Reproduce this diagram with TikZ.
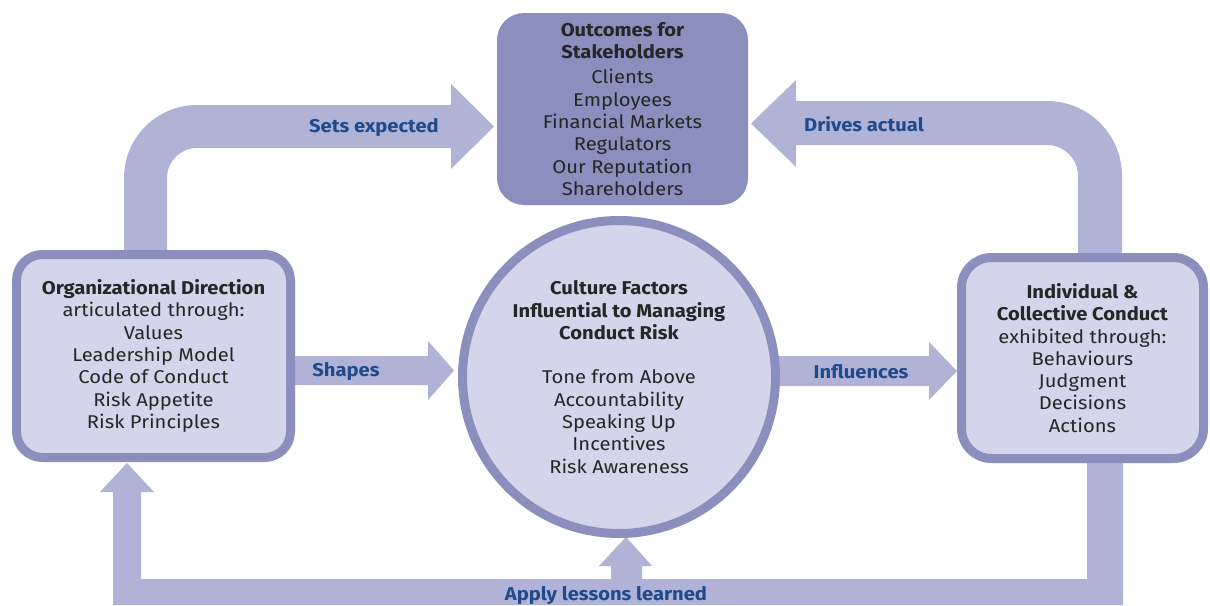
\documentclass[tikz,border=0pt]{standalone}
\usepackage{fontspec}
\setmainfont{Fira Sans}[FakeStretch=1.09]
\usetikzlibrary{calc}
\definecolor{band}{HTML}{B0B3D6}
\definecolor{edge}{HTML}{8A8FBE}
\definecolor{boxfill}{HTML}{D4D5EA}
\definecolor{lbl}{HTML}{1F4A8C}
\definecolor{txt}{HTML}{262626}
\newcommand{\dgbody}{\fontsize{18.5}{22.3}\selectfont}
\begin{document}
\begin{tikzpicture}[x=1pt,y=1pt,
  bandfill/.style={fill=band},
  sidebox/.style={draw=edge, line width=9pt, fill=boxfill, rounded corners=26pt,
     inner sep=0pt, align=center, text=txt, font=\dgbody},
  topbox/.style={fill=edge, rounded corners=27pt, inner sep=0pt, align=center,
     text=txt, font=\dgbody},
  circbox/.style={circle, draw=edge, line width=9pt, fill=boxfill, inner sep=0pt,
     align=center, text=txt, font=\dgbody},
  flowlabel/.style={text=lbl, font=\dgbody\bfseries, inner sep=0pt}]
\useasboundingbox (0,0) rectangle (1210,-605);

% ---------- node positions ----------
\path (153.5,-356) coordinate (lboxc) (1082.5,-358) coordinate (rboxc)
      (622.5,-109) coordinate (topc) (619,-377) coordinate (circc);

% ---------- bands (drawn first) ----------
% Sets expected
\fill[bandfill] (124,-300) -- (124,-178) arc[start angle=180,end angle=90,radius=73]
  -- (451,-105) -- (451,-84) -- (494,-126.5) coordinate (setTip) -- (451,-169) -- (451,-148)
  -- (197,-148) arc[start angle=90,end angle=180,radius=30] -- (167,-300) -- cycle;
% Drives actual
\fill[bandfill] (1078,-300) -- (1078,-176) arc[start angle=0,end angle=90,radius=31]
  -- (796,-145) -- (796,-167) -- (751,-123.5) coordinate (drvTip) -- (796,-80) -- (796,-101)
  -- (1047,-101) arc[start angle=90,end angle=0,radius=75] -- (1122,-300) -- cycle;
% Shapes
\fill[bandfill] (250,-356) -- (428,-356) -- (428,-341) -- (454,-370.5) coordinate (shpTip)
  -- (428,-400) -- (428,-385) -- (250,-385) -- cycle;
% Influences
\fill[bandfill] (760,-356) -- (929,-356) -- (929,-342) -- (957,-371) coordinate (infTip)
  -- (929,-400) -- (929,-386) -- (760,-386) -- cycle;
% Apply lessons learned loop
\fill[bandfill] (1087,-420) -- (1123,-420) -- (1123,-605) -- (113,-605) -- (113,-492)
  -- (100,-492) -- (127,-463) coordinate (lessTipA) -- (154,-492) -- (141,-492) -- (141,-579)
  -- (611,-579) -- (611,-566) -- (599,-566) -- (626,-537) coordinate (lessTipB)
  -- (652,-566) -- (642,-566) -- (642,-579) -- (1087,-579) -- cycle;

% ---------- boxes ----------
\node[sidebox, minimum width=274pt, minimum height=203pt] (lbox) at (lboxc)
  {\textbf{Organizational Direction}\\articulated through:\\Values\\Leadership Model\\Code of Conduct\\Risk Appetite\\Risk Principles};
\node[sidebox, minimum width=242pt, minimum height=201pt, rounded corners=30pt] (rbox) at (rboxc)
  {\textbf{Individual \&}\\\textbf{Collective Conduct}\\exhibited through:\\Behaviours\\Judgment\\Decisions\\Actions};
\node[topbox, minimum width=251pt, minimum height=192pt] (top) at (topc)
  {\textbf{Outcomes for}\\\textbf{Stakeholders}\\[3pt]Clients\\Employees\\Financial Markets\\Regulators\\Our Reputation\\Shareholders};
\node[circbox, minimum size=313pt] (circ) at (circc)
  {\textbf{Culture Factors}\\\textbf{Influential to Managing}\\\textbf{Conduct Risk}\\[22.3pt]Tone from Above\\Accountability\\Speaking Up\\Incentives\\Risk Awareness};

% ---------- labels ----------
\node[flowlabel] (lset) at (374,-128) {Sets expected};
\node[flowlabel] (ldrv) at (864,-124) {Drives actual};
\node[flowlabel] (lshp) at (346,-372) {Shapes};
\node[flowlabel] (linf) at (861,-372) {Influences};
\node[flowlabel] (lles) at (606,-596) {Apply lessons learned};
\end{tikzpicture}
\end{document}
